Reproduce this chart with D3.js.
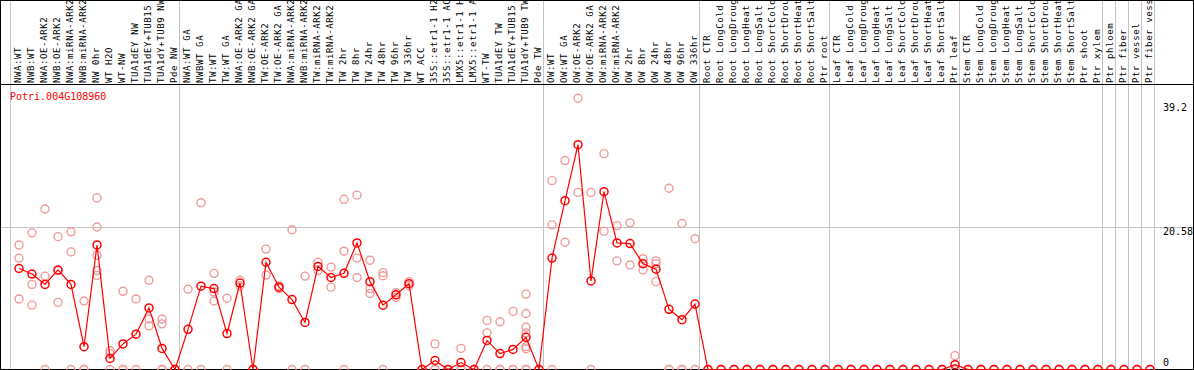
<!DOCTYPE html>
<html>
<head>
<meta charset="utf-8">
<script src="https://cdn.jsdelivr.net/npm/d3@7"></script>
<style>
	body { margin: 0; background: #fff; }
	svg { display: block; }
	text { font-family: "DejaVu Sans Mono", "Liberation Mono", monospace; }
</style>
</head>
<body>
<div id="wrapper"></div>
<script>
var width = 1194;
var height = 370;

var geneName = "Potri.004G108960";

var samples = [
	"NWA:WT", "NWB:WT", "NWA:OE-ARK2", "NWB:OE-ARK2", "NWA:miRNA-ARK2", "NWB:miRNA-ARK2",
	"NW 0hr", "WT H2O", "WT-NW", "TUA1dEY NW", "TUA1dEY+TUB15 NW", "TUA1dY+TUB9 NW", "Pde NW",
	"NWA:WT GA", "NWBWT GA", "TW:WT", "TW:WT GA", "NWA:OE-ARK2 GA", "NWB:OE-ARK2 GA",
	"TW:OE-ARK2", "TW:OE-ARK2 GA", "NWA:miRNA-ARK2", "NWB:miRNA-ARK2", "TW:miRNA-ARK2", "TW:miRNA-ARK2",
	"TW 2hr", "TW 8hr", "TW 24hr", "TW 48hr", "TW 96hr", "TW 336hr", "WT ACC",
	"35S::etr1-1 H2O", "35S::etr1-1 ACC", "LMX5::etr1-1 H2O", "LMX5::etr1-1 ACC",
	"WT-TW", "TUA1dEY TW", "TUA1dEY+TUB15 TW", "TUA1dY+TUB9 TW", "Pde TW",
	"OW:WT", "OW:WT GA", "OW:OE-ARK2", "OW:OE-ARK2 GA", "OW:miRNA-ARK2", "OW:miRNA-ARK2",
	"OW 2hr", "OW 8hr", "OW 24hr", "OW 48hr", "OW 96hr", "OW 336hr",
	"Root CTR", "Root LongCold", "Root LongDrought", "Root LongHeat", "Root LongSalt",
	"Root ShortCold", "Root ShortDrought", "Root ShortHeat", "Root ShortSalt", "Ptr root",
	"Leaf CTR", "Leaf LongCold", "Leaf LongDrought", "Leaf LongHeat", "Leaf LongSalt",
	"Leaf ShortCold", "Leaf ShortDrought", "Leaf ShortHeat", "Leaf ShortSalt", "Ptr leaf",
	"Stem CTR", "Stem LongCold", "Stem LongDrought", "Stem LongHeat", "Stem LongSalt",
	"Stem ShortCold", "Stem ShortDrought", "Stem ShortHeat", "Stem ShortSalt", "Ptr shoot", "Ptr xylem",
	"Ptr phloem", "Ptr fiber", "Ptr vessel", "Ptr fiber vessel"
];

// number of samples in each experiment block (gray separators)
var groupSizes = [13, 28, 12, 10, 10, 11, 1, 1, 1, 1];

var means = [
	14.6, 13.8, 12.3, 14.4, 12.3, 3.3, 18.0, 1.6, 3.7, 5.1, 8.9, 3.05, 0,
	5.8, 12.05, 11.7, 5.2, 12.5, 0, 15.5, 11.9, 10.1, 6.8, 14.9, 13.3, 13.9, 18.3, 12.7,
	9.3, 10.8, 12.4, 0, 1.3, 0, 1.0, 0, 4.2, 2.3, 2.9, 4.65, 0,
	16.1, 24.4, 32.5, 12.8, 25.7, 18.3, 18.2, 15.3, 14.5, 8.7, 7.2, 9.45,
	0, 0, 0, 0, 0, 0, 0, 0, 0, 0,
	0, 0, 0, 0, 0, 0, 0, 0, 0, 0.7,
	0, 0, 0, 0, 0, 0, 0, 0, 0, 0, 0,
	0, 0, 0, 0
];

var replicates = [
	[18.0, 16.1, 10.2], [19.75, 12.3, 9.3], [23.2, 13.5, 0], [19.2, 14.3, 9.7], [19.9, 17.0, 0],
	[9.9, 0, 0], [24.8, 20.6, 16.5, 14.3, 13.6], [2.7, 2.3, 0], [11.3, 0, 0], [10.2, 0],
	[12.9, 7.3, 6.3], [7.3, 6.6, 0, 0], [0, 0, 0],
	[11.6, 0], [24.1, 0], [13.9, 11.2, 9.9], [10.3, 0], [12.9, 12.1], [0, 0], [17.4, 13.65],
	[12.1, 11.7], [20.2, 0], [13.5, 0], [15.5, 14.3], [14.8, 11.9], [24.6, 17.1, 0],
	[25.2, 16.1, 13.3], [15.8, 11.7, 11.0], [14.0, 13.55, 0], [11.1, 10.4], [12.7, 12.1],
	[0, 0], [3.7, 0, 0], [0, 0], [3.05, 0, 0], [0, 0], [7.1, 5.3, 0], [6.9, 0, 0], [8.4, 0, 0],
	[10.9, 8.1, 6.1, 5.3, 3.3, 3.0, 0, 0], [0, 0],
	[27.3, 20.9, 0], [30.2, 18.4], [39.2, 25.6], [25.6, 0], [31.2, 20.0], [20.8, 15.7],
	[21.2, 15.1], [16.0, 14.4], [15.7, 15.3, 12.7], [26.2, 0, 0], [21.1, 0, 0], [18.9, 0],
	[0, 0], [0, 0], [0, 0], [0, 0], [0, 0], [0, 0], [0, 0], [0, 0], [0, 0], [0, 0],
	[0, 0], [0, 0], [0, 0], [0, 0], [0, 0], [0, 0], [0, 0], [0, 0], [0, 0], [2.0, 0, 0],
	[0, 0], [0, 0], [0, 0], [0, 0], [0, 0], [0, 0], [0, 0], [0, 0], [0, 0], [0, 0], [0, 0],
	[0, 0], [0, 0], [0, 0], [0, 0]
];

var yTicks = [39.2, 20.58, 0];
var gridTicks = [20.58];

var headerBottom = 84.5;
var plotLeft = 11, plotRight = 1155;

var svg = d3.select("#wrapper").append("svg")
	.attr("width", width)
	.attr("height", height);

var x = d3.scaleBand()
	.domain(d3.range(samples.length))
	.range([plotLeft, plotRight])
	.paddingInner(0).paddingOuter(0);

var y = d3.scaleLinear()
	.domain([0, 39.2])
	.range([369.5, 98.3]);

function cx(i){
	return x(i) + 8;
}

// horizontal grid
svg.append("g").selectAll("line")
	.data(gridTicks)
	.enter().append("line")
	.attr("x1", 0).attr("x2", width)
	.attr("y1", function(d){ return Math.round(y(d)) + 0.5; })
	.attr("y2", function(d){ return Math.round(y(d)) + 0.5; })
	.attr("stroke", "#c4c4c4");

// block separators
var bounds = [0];
groupSizes.forEach(function(n){ bounds.push(bounds[bounds.length - 1] + n); });
svg.append("g").selectAll("line")
	.data(bounds)
	.enter().append("line")
	.attr("x1", function(d){ return (d < samples.length ? x(d) : plotRight) - 0.5; })
	.attr("x2", function(d){ return (d < samples.length ? x(d) : plotRight) - 0.5; })
	.attr("y1", 0).attr("y2", height)
	.attr("stroke", "#c4c4c4");

// frame
svg.append("line")
	.attr("x1", 0).attr("x2", width)
	.attr("y1", headerBottom).attr("y2", headerBottom)
	.attr("stroke", "#000");
svg.append("rect")
	.attr("x", 0.5).attr("y", 0.5)
	.attr("width", width - 1).attr("height", height - 1)
	.attr("fill", "none")
	.attr("stroke", "#000");

// sample names
svg.append("g").selectAll("text")
	.data(samples)
	.enter().append("text")
	.attr("transform", function(d, i){ return "translate(" + (cx(i) + 2) + ",83) rotate(-90)"; })
	.attr("font-size", "9px")
	.attr("letter-spacing", "0.6px")
	.attr("fill", "#000")
	.text(function(d){ return d; });

// replicate points
var repPoints = [];
replicates.forEach(function(r, i){
	r.forEach(function(v){ repPoints.push({i: i, v: v}); });
});
svg.append("g").selectAll("circle")
	.data(repPoints)
	.enter().append("circle")
	.attr("cx", function(d){ return cx(d.i); })
	.attr("cy", function(d){ return y(d.v); })
	.attr("r", 4)
	.attr("fill", "none")
	.attr("stroke", "#f09a9a")
	.attr("stroke-width", 1.4);

// mean line
var line = d3.line()
	.x(function(d, i){ return cx(i); })
	.y(function(d){ return y(d); });

svg.append("path")
	.datum(means)
	.attr("d", line)
	.attr("fill", "none")
	.attr("stroke", "#ff0000")
	.attr("stroke-width", 1.2);

svg.append("g").selectAll("circle")
	.data(means)
	.enter().append("circle")
	.attr("cx", function(d, i){ return cx(i); })
	.attr("cy", function(d){ return y(d); })
	.attr("r", 4)
	.attr("fill", "none")
	.attr("stroke", "#ff0000")
	.attr("stroke-width", 1.5);

// value labels on the right
svg.append("g").selectAll("text")
	.data(yTicks)
	.enter().append("text")
	.attr("x", 1163)
	.attr("y", function(d){ return Math.max(111, Math.min(366, y(d) + 8)); })
	.attr("font-size", "10px")
	.attr("fill", "#000")
	.text(function(d){ return d; });

svg.append("text")
	.attr("x", 10)
	.attr("y", 100)
	.attr("font-size", "10px")
	.attr("fill", "#ff0000")
	.text(geneName);
</script>
</body>
</html>
